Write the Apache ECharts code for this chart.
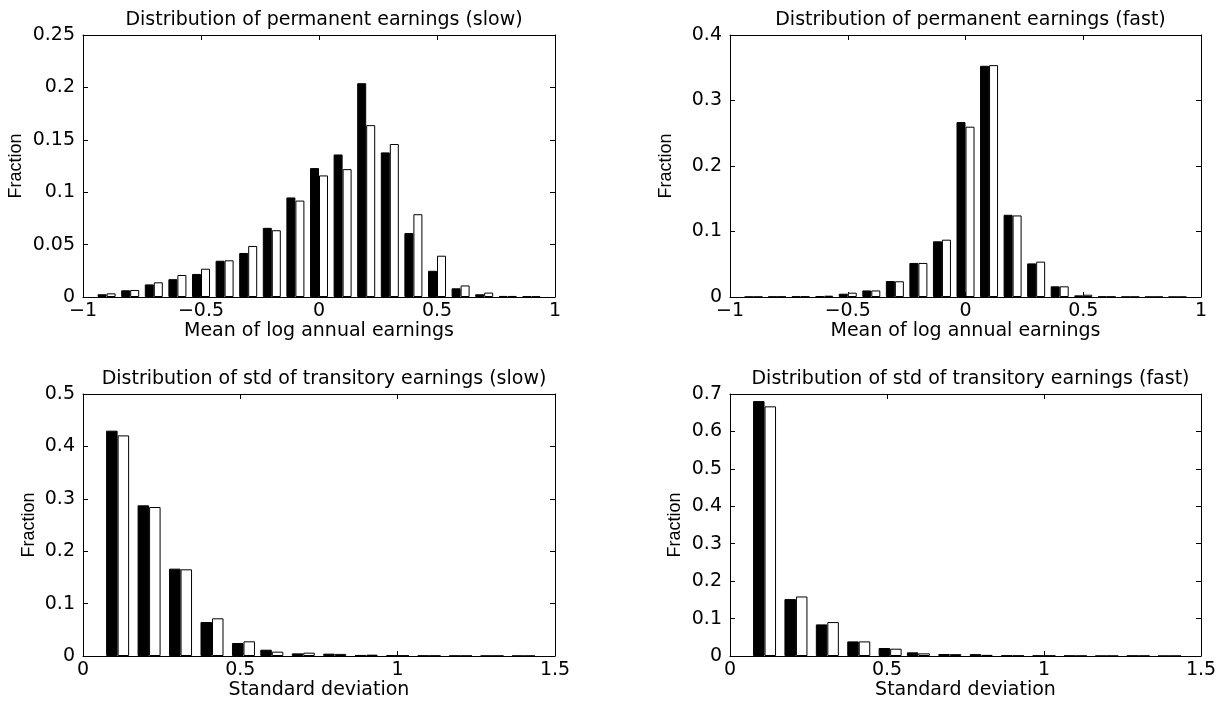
<!DOCTYPE html>
<html>
<head>
<meta charset="utf-8">
<script src="https://cdn.jsdelivr.net/npm/echarts@6/dist/echarts.min.js"></script>
<style>
html,body{margin:0;padding:0;background:#fff;}
#c{width:1229px;height:703px;}
</style>
</head>
<body>
<div id="c"></div>
<script>
// ---- data ----
const titles = [
  'Distribution of permanent earnings (slow)',
  'Distribution of permanent earnings (fast)',
  'Distribution of std of transitory earnings (slow)',
  'Distribution of std of transitory earnings (fast)'
];
const xNames = ['Mean of log annual earnings', 'Mean of log annual earnings', 'Standard deviation', 'Standard deviation'];
const yName = 'Fraction';

const permX = [-0.9,-0.8,-0.7,-0.6,-0.5,-0.4,-0.3,-0.2,-0.1,0,0.1,0.2,0.3,0.4,0.5,0.6,0.7,0.8,0.9];
const permSlowBlack = [0.0026,0.0064,0.012,0.017,0.022,0.0346,0.042,0.066,0.095,0.123,0.136,0.204,0.138,0.061,0.025,0.0083,0.0026,0.001,0.0006];
const permSlowWhite = [0.0035,0.0067,0.014,0.021,0.027,0.035,0.0487,0.0637,0.092,0.116,0.122,0.164,0.146,0.079,0.0394,0.011,0.0042,0.001,0.0005];
const permFastBlack = [0.0003,0.0005,0.0008,0.0015,0.005,0.010,0.0244,0.052,0.085,0.267,0.353,0.1255,0.0513,0.0163,0.0025,0.0006,0.0003,0.0002,0.0001];
const permFastWhite = [0.0003,0.0005,0.0008,0.002,0.0066,0.010,0.024,0.052,0.0875,0.260,0.354,0.1245,0.054,0.0163,0.0035,0.0005,0.0003,0.0002,0.0001];

const stdX = [0.11,0.21,0.31,0.41,0.51,0.6,0.7,0.8,0.9,1.0,1.1,1.2,1.3,1.4];
const stdSlowBlack = [0.430,0.2875,0.1667,0.0649,0.0248,0.012,0.005,0.0045,0.002,0.0015,0.0006,0.0005,0.0003,0.0003];
const stdSlowWhite = [0.421,0.2843,0.1654,0.0719,0.028,0.0083,0.0064,0.004,0.0025,0.001,0.0006,0.0004,0.0003,0.0002];
const stdFastBlack = [0.681,0.152,0.0844,0.039,0.0213,0.0098,0.0053,0.005,0.0015,0.001,0.0008,0.0003,0.0008,0.0002];
const stdFastWhite = [0.667,0.159,0.0906,0.039,0.0195,0.007,0.005,0.003,0.001,0.0008,0.0005,0.0003,0.0005,0.0002];

const xRanges = [[-1,1,0.5],[-1,1,0.5],[0,1.5,0.5],[0,1.5,0.5]];
const yRanges = [[0,0.25,0.05],[0,0.4,0.1],[0,0.5,0.1],[0,0.7,0.1]];

// ---- layout / style ----
const FONT = 'DejaVu Sans';
const FS = 19;
const YFONT = 'Liberation Sans';
const grids = [
  {left:83, top:35, width:472, height:262},
  {left:730, top:35, width:471, height:262},
  {left:83, top:394, width:472, height:262},
  {left:730, top:394, width:471, height:262}
];
const yNameGaps = [58, 55, 45, 46];
const barW = [9, 9, 11.5, 11.5];
const seriesSets = [
  [permX, permSlowBlack, permSlowWhite],
  [permX, permFastBlack, permFastWhite],
  [stdX, stdSlowBlack, stdSlowWhite],
  [stdX, stdFastBlack, stdFastWhite]
];

const fmt = v => String(+v.toFixed(4)).replace('-', '\u2212');
const lineStyle = {color:'#000', width:1};

const xAxis = [], yAxis = [], series = [], title = [];
grids.forEach((g, i) => {
  const [xmin, xmax, xint] = xRanges[i];
  const [ymin, ymax, yint] = yRanges[i];
  xAxis.push({
    gridIndex:i, type:'value', min:xmin, max:xmax, interval:xint, position:'bottom',
    axisLine:{onZero:false, lineStyle},
    axisTick:{inside:true, length:5, lineStyle},
    axisLabel:{color:'#000', fontFamily:FONT, fontSize:FS, margin:5, formatter:fmt},
    splitLine:{show:false},
    name:xNames[i], nameLocation:'middle', nameGap:23,
    nameTextStyle:{color:'#000', fontFamily:FONT, fontSize:FS}
  });
  yAxis.push({
    gridIndex:i, type:'value', min:ymin, max:ymax, interval:yint, position:'left',
    axisLine:{onZero:false, lineStyle},
    axisTick:{inside:true, length:5, lineStyle},
    axisLabel:{color:'#000', fontFamily:FONT, fontSize:FS, margin:8, formatter:fmt},
    splitLine:{show:false},
    name:yName, nameLocation:'middle', nameGap:yNameGaps[i],
    nameTextStyle:{color:'#000', fontFamily:YFONT, fontSize:18}
  });
  title.push({
    text:titles[i], left:g.left + g.width/2, top:g.top - 29, textAlign:'center',
    textStyle:{color:'#000', fontFamily:FONT, fontSize:FS, fontWeight:'normal'}
  });
  const [xs, blk, wht] = seriesSets[i];
  series.push({
    type:'bar', xAxisIndex:i, yAxisIndex:i, barWidth:barW[i], barGap:'0%',
    itemStyle:{color:'#000', borderColor:'#000', borderWidth:1},
    data: xs.map((x, k) => [x, blk[k]]), silent:true, animation:false
  });
  series.push({
    type:'bar', xAxisIndex:i, yAxisIndex:i, barWidth:barW[i], barGap:'0%',
    itemStyle:{color:'#fff', borderColor:'#000', borderWidth:1},
    data: xs.map((x, k) => [x, wht[k]]), silent:true, animation:false
  });
});
// mirrored box axes (top / right) with inner ticks
grids.forEach((g, i) => {
  const [xmin, xmax, xint] = xRanges[i];
  const [ymin, ymax, yint] = yRanges[i];
  xAxis.push({
    gridIndex:i, type:'value', min:xmin, max:xmax, interval:xint, position:'top',
    axisLine:{onZero:false, lineStyle}, axisTick:{inside:true, length:5, lineStyle},
    axisLabel:{show:false}, splitLine:{show:false}
  });
  yAxis.push({
    gridIndex:i, type:'value', min:ymin, max:ymax, interval:yint, position:'right',
    axisLine:{onZero:false, lineStyle}, axisTick:{inside:true, length:5, lineStyle},
    axisLabel:{show:false}, splitLine:{show:false}
  });
});

const chart = echarts.init(document.getElementById('c'), null, {renderer:'canvas'});
chart.setOption({
  animation:false,
  backgroundColor:'#fff',
  title, grid: grids.map(g => Object.assign({containLabel:false}, g)),
  xAxis, yAxis, series
});
</script>
</body>
</html>
